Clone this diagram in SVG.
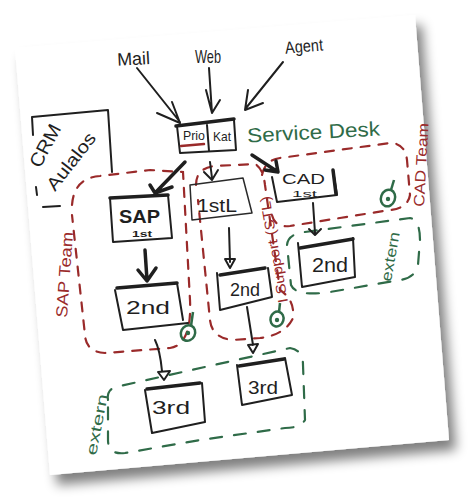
<svg xmlns="http://www.w3.org/2000/svg" width="469" height="497" viewBox="0 0 469 497">
<defs>
<filter id="sh" x="-10%" y="-10%" width="130%" height="130%">
<feGaussianBlur in="SourceAlpha" stdDeviation="6"/>
<feOffset dx="7" dy="10"/>
<feComponentTransfer><feFuncA type="linear" slope="0.5"/></feComponentTransfer>
<feMerge><feMergeNode/><feMergeNode in="SourceGraphic"/></feMerge>
</filter>
<style>
.ink{fill:none;stroke:#1f1f1f;stroke-width:2;stroke-linecap:round;stroke-linejoin:round}
.thick{fill:none;stroke:#1f1f1f;stroke-width:3.5;stroke-linecap:round;stroke-linejoin:round}
.thin{fill:none;stroke:#2a2a2a;stroke-width:1.5;stroke-linecap:round;stroke-linejoin:round}
.red{fill:none;stroke:#9a2a2a;stroke-width:2.2;stroke-linecap:round;stroke-dasharray:9 9}
.grn{fill:none;stroke:#2f6b48;stroke-width:2.2;stroke-linecap:round;stroke-dasharray:12 12}
.t{font-family:"Liberation Sans",Arial,sans-serif;fill:#1f1f1f}
.tr{font-family:"Liberation Sans",Arial,sans-serif;fill:#9a2a2a}
.tg{font-family:"Liberation Sans",Arial,sans-serif;fill:#2f6b48}
.gc{fill:none;stroke:#2f6b48;stroke-width:2.5}
</style>
</defs>
<rect width="469" height="497" fill="#ffffff"/>
<polygon points="15,48 415,15 449,440 50,475" fill="#ffffff" filter="url(#sh)"/>

<g id="regions">
<path class="red" d="M72,205 Q74,178 100,176 L150,170 L183,172 L190,300 Q192,345 170,348 L105,353 Q86,352 85,335 L72,215"/>
<path class="red" d="M196,185 Q196,168 215,166 L255,164 Q263,168 265,185 L280,290 Q295,300 293,318 Q285,335 260,338 L233,340 Q212,338 210,320 L198,200"/>
<path class="red" d="M262,175 Q265,160 280,158 L390,143 Q405,143 407,160 L410,195 Q408,208 390,210 L340,218 L290,226 Q275,228 272,215"/>
<path class="grn" d="M287,245 Q288,234 305,232 L410,218 Q420,220 420,240 L418,265 Q415,278 400,280 L330,292 Q296,297 291,285 Z"/>
<path class="grn" d="M108,400 Q106,388 120,386 L290,348 Q303,350 303,365 L305,420 Q300,428 285,428 L200,440 L125,453 Q108,455 108,440 Z"/>
<text class="tr" font-size="16" transform="translate(67,318) rotate(-86)" textLength="86" lengthAdjust="spacingAndGlyphs">SAP Team</text>
<text class="tr" font-size="14" transform="translate(288,302) rotate(-100)" textLength="108" lengthAdjust="spacingAndGlyphs">I Support (STL)</text>
<text class="tr" font-size="15" transform="translate(424,207) rotate(-87)" textLength="84" lengthAdjust="spacingAndGlyphs">CAD Team</text>
<text class="tg" font-size="15" transform="translate(391,282) rotate(-80)" textLength="50" lengthAdjust="spacingAndGlyphs">extern</text>
<text class="tg" font-size="15" transform="translate(96,456) rotate(-79)" textLength="62" lengthAdjust="spacingAndGlyphs">extern</text>
</g>

<g id="markers">
<path class="gc" d="M193,312 L191,326"/>
<ellipse class="gc" cx="188" cy="333" rx="7" ry="8" transform="rotate(25 188 333)"/>
<circle cx="188" cy="333" r="2.2" fill="#2f6b48"/>
<path class="gc" d="M280,303 L279,312"/>
<ellipse class="gc" cx="277" cy="319" rx="6.5" ry="7.5" transform="rotate(15 277 319)"/>
<circle cx="277" cy="320" r="2.2" fill="#2f6b48"/>
<path class="gc" d="M394,180 L391,190"/>
<ellipse class="gc" cx="388" cy="198" rx="7" ry="8.5" transform="rotate(20 388 198)"/>
<circle cx="388" cy="199" r="2.2" fill="#2f6b48"/>
</g>

<g id="connectors">
<path class="ink" d="M137,68 L180,122 M157,113 L180,123 L172,102"/>
<path class="ink" d="M209,68 L212,113 M206,90 L212,113 L220,100"/>
<path class="ink" d="M283,62 L246,108 M248,90 L245,110 L263,103"/>
<path class="thick" d="M185,162 L156,192 M150,185 L155,193 L172,187"/>
<path class="ink" d="M210,162 L212,178 M204,172 L212,180 L218,170"/>
<path class="thick" d="M252,155 L278,172 M276,161 L278,172 L265,170"/>
<path class="ink" d="M313,203 L315,233 M309,229 L315,235 L321,229"/>
<path class="ink" d="M229,228 L230,262 M225,259 L235,259 L230,268 Z"/>
<path class="thick" d="M145,250 L147,280 M138,270 L147,281 L156,268"/>
<path class="ink" d="M155,340 Q160,350 162,371 M158,372 L170,371 L164,380 Z"/>
<path class="ink" d="M247,307 L253,345 M248,345 L258,344 L253,353 Z"/>
</g>

<g id="n-mail"><text class="t" font-size="18" x="117" y="65" textLength="33" lengthAdjust="spacingAndGlyphs" transform="rotate(-3 133 58)">Mail</text></g>
<g id="n-web"><text class="t" font-size="19" x="195" y="63" textLength="26" lengthAdjust="spacingAndGlyphs">Web</text></g>
<g id="n-agent"><text class="t" font-size="17" x="285" y="52" textLength="38" lengthAdjust="spacingAndGlyphs" transform="rotate(-5 304 46)">Agent</text></g>

<g id="n-priokat">
<path class="ink" d="M177,126 L180,153 L236,150 L234,120"/>
<path class="thick" d="M176,126 L234,119"/>
<path class="ink" d="M207,125 L209,151"/>
<text class="t" font-size="13" x="183" y="140" textLength="22" lengthAdjust="spacingAndGlyphs">Prio</text>
<text class="t" font-size="13" x="213" y="141" textLength="18" lengthAdjust="spacingAndGlyphs">Kat</text>
<path d="M181,146 L204,144" stroke="#9a2a2a" stroke-width="2.5" stroke-linecap="round" fill="none"/>
<text class="tg" font-size="20" x="247" y="139" textLength="133" lengthAdjust="spacingAndGlyphs" transform="rotate(-3 313 132)">Service Desk</text>
</g>

<g id="n-crm">
<path class="ink" d="M33,135 L32,117 L108,110 L112,172"/>
<path class="ink" d="M36,187 L37,195 M43,207 L60,206"/>
<text class="t" font-size="19" transform="translate(40,169) rotate(-62)" textLength="46" lengthAdjust="spacingAndGlyphs">CRM</text>
<text class="t" font-size="18" transform="translate(55,192) rotate(-52)" textLength="68" lengthAdjust="spacingAndGlyphs">Aulalos</text>
</g>

<g id="n-sap1">
<path class="ink" d="M110,198 L113,242 L172,238 L168,195"/>
<path class="thick" d="M110,198 L168,195"/>
<text class="t" font-size="19" x="119" y="223" textLength="41" lengthAdjust="spacingAndGlyphs" font-weight="bold">SAP</text>
<text class="t" font-size="9" x="132" y="237" textLength="20" lengthAdjust="spacingAndGlyphs" font-weight="bold">1st</text>
</g>

<g id="n-1stl">
<path class="thin" d="M190,185 L192,220 L252,213 L243,178 Z"/>
<text class="t" font-size="18" x="197" y="212" textLength="40" lengthAdjust="spacingAndGlyphs">1stL</text>
</g>

<g id="n-cad1">
<path class="ink" d="M272,177 L277,202 L337,195 L333,170"/>
<path class="thick" d="M333,170 L336,194"/>
<text class="t" font-size="14" x="282" y="184" textLength="43" lengthAdjust="spacingAndGlyphs">CAD</text>
<text class="t" font-size="9" x="292" y="197" textLength="25" lengthAdjust="spacingAndGlyphs">1st</text>
</g>

<g id="n-cad2">
<path class="ink" d="M298,243 L302,287 L355,277 L353,238"/>
<path class="thick" d="M300,248 L353,239"/>
<text class="t" font-size="20" x="312" y="272" textLength="36" lengthAdjust="spacingAndGlyphs">2nd</text>
</g>

<g id="n-sup2">
<path class="ink" d="M217,273 L220,310 L272,297 L268,268"/>
<path class="thick" d="M220,275 L265,268"/>
<text class="t" font-size="18" x="230" y="296" textLength="30" lengthAdjust="spacingAndGlyphs">2nd</text>
</g>

<g id="n-sap2">
<path class="ink" d="M115,290 L123,330 L188,323 M183,320 L177,283"/>
<path class="thick" d="M117,288 L177,283"/>
<text class="t" font-size="18" x="126" y="314" textLength="44" lengthAdjust="spacingAndGlyphs">2nd</text>
</g>

<g id="n-sap3">
<path class="ink" d="M145,390 L152,433 L205,422 L202,383"/>
<path class="thick" d="M147,389 L200,383"/>
<text class="t" font-size="18" x="152" y="414" textLength="38" lengthAdjust="spacingAndGlyphs">3rd</text>
</g>

<g id="n-sup3">
<path class="ink" d="M237,365 L242,405 L292,395 L285,358"/>
<path class="thick" d="M239,366 L284,359"/>
<text class="t" font-size="18" x="248" y="394" textLength="30" lengthAdjust="spacingAndGlyphs">3rd</text>
</g>
</svg>
